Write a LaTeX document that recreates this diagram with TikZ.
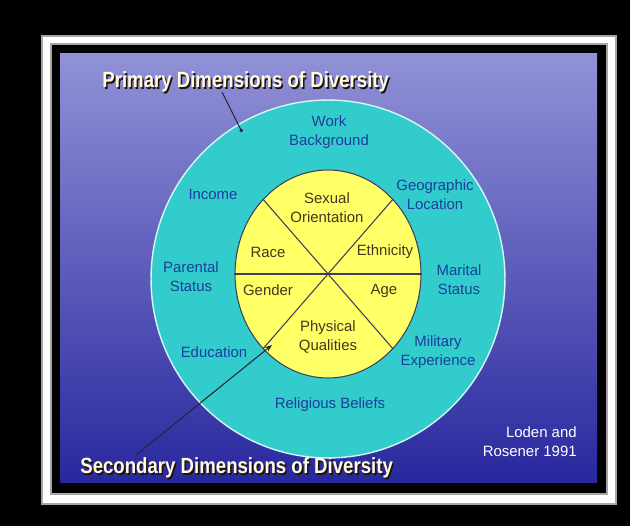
\documentclass[tikz,border=0pt]{standalone}
\usepackage{fontspec}
\setmainfont{Liberation Sans}
\usepackage{tikz}
\usetikzlibrary{shapes.geometric}
\usetikzlibrary{arrows.meta}
\definecolor{color1}{RGB}{51,204,204}
\definecolor{color2}{RGB}{255,255,102}
\definecolor{color3}{RGB}{28,62,156}
\definecolor{color4}{RGB}{66,56,30}
\definecolor{color5}{RGB}{62,62,92}
\definecolor{skytop}{RGB}{145,145,215}
\definecolor{skymid}{RGB}{88,88,198}
\definecolor{seabot}{RGB}{40,40,158}
\definecolor{titlecol}{RGB}{255,250,225}
\newcommand{\ttl}[1]{\scalebox{1}[1.18]{#1}}

\begin{document}
\begin{tikzpicture}[x=0.02cm,y=-0.02cm,>=Stealth,
  lbl/.style={align=center,inner sep=0pt,text=color3,font=\fontsize{8.5}{10.8}\selectfont},
  inlbl/.style={align=center,inner sep=0pt,text=color4,font=\fontsize{8.5}{10.8}\selectfont},
  title/.style={inner sep=0pt,font=\fontsize{10.6}{12}\selectfont\bfseries}]

  % frame and background
  \fill [black] (0,0) rectangle (630,526);
  \useasboundingbox (0,0) rectangle (630,526);
  \fill [white,draw=gray!70,line width=0.6pt] (42,36) rectangle (616,504);
  \fill [black,draw=gray!70,line width=0.6pt] (51,44) rectangle (607,494);
  \shade [top color=skytop,middle color=skymid,bottom color=seabot] (60,54) rectangle (597,483);

  % the two ellipses
  \node [ellipse,draw=white!80!color1,line width=0.8pt,fill=color1,inner sep=0pt,
    minimum width=7.08cm,minimum height=7.16cm] (outer) at (328,279) {};
  \node [ellipse,draw=color5,line width=0.6pt,fill=color2,inner sep=0pt,
    minimum width=3.72cm,minimum height=4.16cm] (inner) at (328,274) {};

  \draw [color5,line width=0.6pt] (inner.west) -- (inner.east);
  \draw [color5,line width=0.6pt] (inner.131) -- (inner.-49);
  \draw [color5,line width=0.6pt] (inner.49) -- (inner.229);

  % secondary dimensions
  \foreach \name/\txt/\x/\y in {work/{Work\\Background}/329/132,
                                income/Income/213/194,
                                geo/{Geographic\\Location}/435/195,
                                parent/{Parental\\Status}/191/277,
                                marital/{Marital\\Status}/459/280,
                                edu/Education/214/352,
                                mil/{Military\\Experience}/438/352,
                                rel/{Religious Beliefs}/330/405}
    \node [lbl] (\name) at (\x,\y) {\txt};

  % primary dimensions
  \foreach \name/\txt/\x/\y in {sex/{Sexual\\Orientation}/327/208,
                                race/Race/268/252,
                                eth/Ethnicity/385/252,
                                gender/Gender/268/290,
                                age/Age/384/291,
                                phys/{Physical\\Qualities}/328/337}
    \node [inlbl] (\name) at (\x,\y) {\txt};

  % titles with shadow
  \node [title,text=black!85!brown,anchor=west] (primshadow) at (103.5,83.5) {\ttl{Primary Dimensions of Diversity}};
  \node [title,text=titlecol,anchor=west] (prim) at (102,82) {\ttl{Primary Dimensions of Diversity}};
  \node [title,text=black!85!brown,anchor=west] (secshadow) at (81.5,469.5) {\ttl{Secondary Dimensions of Diversity}};
  \node [title,text=titlecol,anchor=west] (sec) at (80,468) {\ttl{Secondary Dimensions of Diversity}};

  \node [anchor=east,align=right,inner sep=0pt,text=white,font=\fontsize{8.5}{10.8}\selectfont] (src) at (577,442) {Loden and\\Rosener 1991};

  % pointers
  \coordinate (pstart) at (222,92);
  \coordinate (ptip) at (242,132);
  \coordinate (sstart) at (136,455);
  \coordinate (stip) at (272,345);
  \draw [-{Circle[length=2pt]},color5!60!black,line width=0.6pt] (pstart) -- (ptip);
  \draw [-{Stealth[length=4pt]},color5!60!black,line width=0.6pt] (sstart) -- (stip);

\end{tikzpicture}
\end{document}
